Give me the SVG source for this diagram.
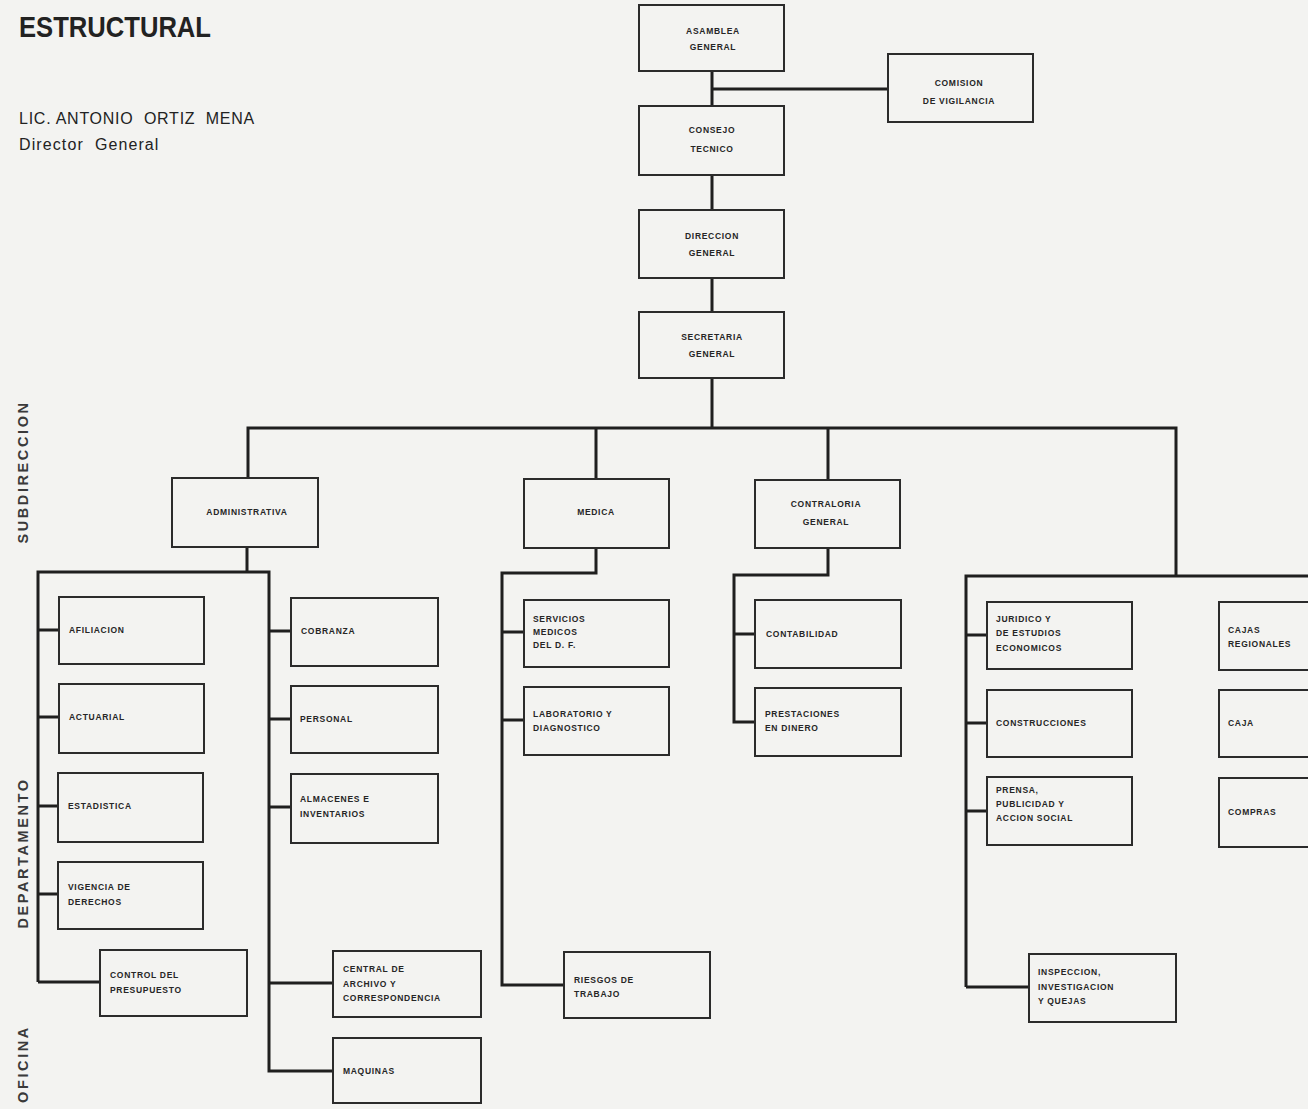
<svg xmlns="http://www.w3.org/2000/svg" width="1308" height="1109" viewBox="0 0 1308 1109">
  <style>
    .paper { fill: #f3f3f1; }
    .box { fill: none; stroke: #2b2b2b; stroke-width: 2; }
    .wire { fill: none; stroke: #1f1f1f; stroke-width: 3; stroke-linejoin: miter; }
    .t { font-family: "Liberation Sans", Arial, sans-serif; font-size: 8.5px; font-weight: bold; letter-spacing: 0.7px; fill: #262626; }
    .tc { text-anchor: middle; }
    .side { font-family: "Liberation Sans", Arial, sans-serif; font-size: 14.5px; font-weight: bold; letter-spacing: 2.6px; fill: #3a3a3a; text-anchor: middle; }
    .head { font-family: "Liberation Sans", Arial, sans-serif; fill: #222; white-space: pre; }
  </style>

  <rect class="paper" x="0" y="0" width="1308" height="1109"/>

  <!-- heading block -->
  <g id="heading">
    <text class="head" x="19" y="37" font-size="30" font-weight="bold" textLength="192" lengthAdjust="spacingAndGlyphs">ESTRUCTURAL</text>
    <text class="head" x="19" y="124" font-size="16" letter-spacing="0.75" xml:space="preserve">LIC. ANTONIO  ORTIZ  MENA</text>
    <text class="head" x="19" y="150" font-size="16" letter-spacing="1.1" xml:space="preserve">Director  General</text>
  </g>

  <!-- level labels along the left margin -->
  <g id="levels">
    <text class="side" transform="translate(28,472) rotate(-90)">SUBDIRECCION</text>
    <text class="side" transform="translate(28,853) rotate(-90)">DEPARTAMENTO</text>
    <text class="side" transform="translate(28,1064) rotate(-90)">OFICINA</text>
  </g>

  <!-- connectors -->
  <g id="connectors">
    <path class="wire" d="M712,71 V106 M712,89 H888 M712,175 V210 M712,278 V312 M712,378 V428"/>
    <path class="wire" d="M248,478 V428 H1176 V576 M596,428 V479 M828,428 V480"/>
    <!-- administrativa -->
    <path class="wire" d="M247,547 V572 M38,982 V572 H269 V1071 H333"/>
    <path class="wire" d="M38,630 H59 M38,717 H59 M38,806 H58 M38,894 H58 M38,982 H100"/>
    <path class="wire" d="M269,631 H291 M269,719 H291 M269,807 H291 M269,983 H333"/>
    <!-- medica -->
    <path class="wire" d="M596,548 V573 H502 V985 H564 M502,632 H524 M502,720 H524"/>
    <!-- contraloria -->
    <path class="wire" d="M828,548 V575 H734 V722 H755 M734,634 H755"/>
    <!-- right branch -->
    <path class="wire" d="M966,987 V576 H1310 M966,635 H987 M966,723 H987 M966,811 H987 M966,987 H1029"/>
  </g>

  <!-- upper chain -->
  <g id="asamblea-general">
    <rect class="box" x="639" y="5" width="145" height="66"/>
    <text class="t tc" x="713" y="34">ASAMBLEA</text>
    <text class="t tc" x="713" y="50">GENERAL</text>
  </g>
  <g id="comision-de-vigilancia">
    <rect class="box" x="888" y="54" width="145" height="68"/>
    <text class="t tc" x="959" y="86">COMISION</text>
    <text class="t tc" x="959" y="104">DE VIGILANCIA</text>
  </g>
  <g id="consejo-tecnico">
    <rect class="box" x="639" y="106" width="145" height="69"/>
    <text class="t tc" x="712" y="133">CONSEJO</text>
    <text class="t tc" x="712" y="152">TECNICO</text>
  </g>
  <g id="direccion-general">
    <rect class="box" x="639" y="210" width="145" height="68"/>
    <text class="t tc" x="712" y="239">DIRECCION</text>
    <text class="t tc" x="712" y="256">GENERAL</text>
  </g>
  <g id="secretaria-general">
    <rect class="box" x="639" y="312" width="145" height="66"/>
    <text class="t tc" x="712" y="340">SECRETARIA</text>
    <text class="t tc" x="712" y="357">GENERAL</text>
  </g>

  <!-- subdirecciones -->
  <g id="administrativa">
    <rect class="box" x="172" y="478" width="146" height="69"/>
    <text class="t tc" x="247" y="515">ADMINISTRATIVA</text>
  </g>
  <g id="medica">
    <rect class="box" x="524" y="479" width="145" height="69"/>
    <text class="t tc" x="596" y="515">MEDICA</text>
  </g>
  <g id="contraloria-general">
    <rect class="box" x="755" y="480" width="145" height="68"/>
    <text class="t tc" x="826" y="507">CONTRALORIA</text>
    <text class="t tc" x="826" y="525">GENERAL</text>
  </g>

  <!-- administrativa: left column -->
  <g id="afiliacion">
    <rect class="box" x="59" y="597" width="145" height="67"/>
    <text class="t" x="69" y="633">AFILIACION</text>
  </g>
  <g id="actuarial">
    <rect class="box" x="59" y="684" width="145" height="69"/>
    <text class="t" x="69" y="720">ACTUARIAL</text>
  </g>
  <g id="estadistica">
    <rect class="box" x="58" y="773" width="145" height="69"/>
    <text class="t" x="68" y="809">ESTADISTICA</text>
  </g>
  <g id="vigencia-de-derechos">
    <rect class="box" x="58" y="862" width="145" height="67"/>
    <text class="t" x="68" y="890">VIGENCIA DE</text>
    <text class="t" x="68" y="905">DERECHOS</text>
  </g>
  <g id="control-del-presupuesto">
    <rect class="box" x="100" y="950" width="147" height="66"/>
    <text class="t" x="110" y="978">CONTROL DEL</text>
    <text class="t" x="110" y="993">PRESUPUESTO</text>
  </g>

  <!-- administrativa: right column -->
  <g id="cobranza">
    <rect class="box" x="291" y="598" width="147" height="68"/>
    <text class="t" x="301" y="634">COBRANZA</text>
  </g>
  <g id="personal">
    <rect class="box" x="291" y="686" width="147" height="67"/>
    <text class="t" x="300" y="722">PERSONAL</text>
  </g>
  <g id="almacenes-e-inventarios">
    <rect class="box" x="291" y="774" width="147" height="69"/>
    <text class="t" x="300" y="802">ALMACENES E</text>
    <text class="t" x="300" y="817">INVENTARIOS</text>
  </g>
  <g id="central-de-archivo">
    <rect class="box" x="333" y="951" width="148" height="66"/>
    <text class="t" x="343" y="972">CENTRAL DE</text>
    <text class="t" x="343" y="987">ARCHIVO Y</text>
    <text class="t" x="343" y="1001">CORRESPONDENCIA</text>
  </g>
  <g id="maquinas">
    <rect class="box" x="333" y="1038" width="148" height="65"/>
    <text class="t" x="343" y="1074">MAQUINAS</text>
  </g>

  <!-- medica branch -->
  <g id="servicios-medicos">
    <rect class="box" x="524" y="600" width="145" height="67"/>
    <text class="t" x="533" y="622">SERVICIOS</text>
    <text class="t" x="533" y="635">MEDICOS</text>
    <text class="t" x="533" y="648">DEL D. F.</text>
  </g>
  <g id="laboratorio-y-diagnostico">
    <rect class="box" x="524" y="687" width="145" height="68"/>
    <text class="t" x="533" y="717">LABORATORIO Y</text>
    <text class="t" x="533" y="731">DIAGNOSTICO</text>
  </g>
  <g id="riesgos-de-trabajo">
    <rect class="box" x="564" y="952" width="146" height="66"/>
    <text class="t" x="574" y="983">RIESGOS DE</text>
    <text class="t" x="574" y="997">TRABAJO</text>
  </g>

  <!-- contraloria branch -->
  <g id="contabilidad">
    <rect class="box" x="755" y="600" width="146" height="68"/>
    <text class="t" x="766" y="637">CONTABILIDAD</text>
  </g>
  <g id="prestaciones-en-dinero">
    <rect class="box" x="755" y="688" width="146" height="68"/>
    <text class="t" x="765" y="717">PRESTACIONES</text>
    <text class="t" x="765" y="731">EN DINERO</text>
  </g>

  <!-- right branch -->
  <g id="juridico">
    <rect class="box" x="987" y="602" width="145" height="67"/>
    <text class="t" x="996" y="622">JURIDICO Y</text>
    <text class="t" x="996" y="636">DE ESTUDIOS</text>
    <text class="t" x="996" y="651">ECONOMICOS</text>
  </g>
  <g id="construcciones">
    <rect class="box" x="987" y="690" width="145" height="67"/>
    <text class="t" x="996" y="726">CONSTRUCCIONES</text>
  </g>
  <g id="prensa-publicidad">
    <rect class="box" x="987" y="777" width="145" height="68"/>
    <text class="t" x="996" y="793">PRENSA,</text>
    <text class="t" x="996" y="807">PUBLICIDAD Y</text>
    <text class="t" x="996" y="821">ACCION SOCIAL</text>
  </g>
  <g id="inspeccion">
    <rect class="box" x="1029" y="954" width="147" height="68"/>
    <text class="t" x="1038" y="975">INSPECCION,</text>
    <text class="t" x="1038" y="990">INVESTIGACION</text>
    <text class="t" x="1038" y="1004">Y QUEJAS</text>
  </g>
  <g id="cajas-regionales">
    <rect class="box" x="1219" y="602" width="130" height="68"/>
    <text class="t" x="1228" y="633">CAJAS</text>
    <text class="t" x="1228" y="647">REGIONALES</text>
  </g>
  <g id="caja">
    <rect class="box" x="1219" y="690" width="130" height="67"/>
    <text class="t" x="1228" y="726">CAJA</text>
  </g>
  <g id="compras">
    <rect class="box" x="1219" y="778" width="130" height="69"/>
    <text class="t" x="1228" y="815">COMPRAS</text>
  </g>
</svg>
